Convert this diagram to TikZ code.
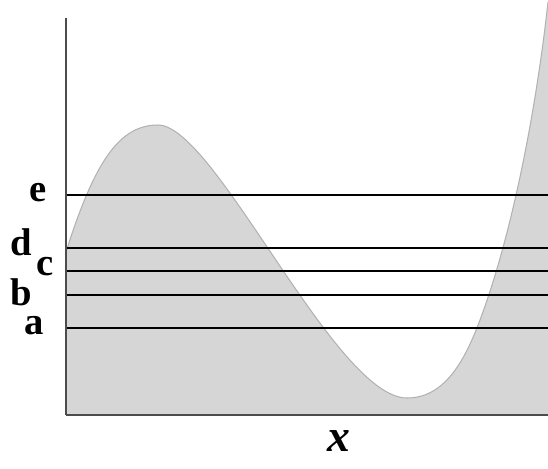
\documentclass[tikz,border=0pt]{standalone}
\usepackage{fontspec}
\setmainfont{Liberation Serif}
\usetikzlibrary{calc}
\tikzset{
  lbl/.style={font=\fontsize{22}{24}\selectfont\bfseries, inner sep=0pt},
  level/.style={line width=1.1pt, black},
  axisline/.style={line width=1.3pt, black!70}
}
\def\wellcurve{(66, 252) .. controls (95, 160) and (120, 125) .. (158, 125)
  .. controls (215, 125) and (335, 398) .. (407, 398)
  .. controls (445, 398) and (465, 360) .. (480, 320)
  .. controls (510, 240) and (535, 120) .. (548, 2)}

\begin{document}
\begin{tikzpicture}[x=0.02cm, y=-0.02cm]
				\useasboundingbox (0, 0) rectangle (548, 468);
				
				% shaded region under the curve
				\fill[black!16] (66, 415) -- \wellcurve -- (548, 415) -- cycle;
				\draw[black!30, line width=0.6pt] \wellcurve;
				
				% levels
				\draw[level] (66, 195) -- (548, 195);
				\draw[level] (66, 248) -- (548, 248);
				\draw[level] (66, 271) -- (548, 271);
				\draw[level] (66, 295) -- (548, 295);
				\draw[level] (66, 328) -- (548, 328);
				
				% axes
				\draw[axisline] (66, 18) -- (66, 415);
				\draw[axisline] (66, 415) -- (548, 415);
				
				\node[lbl] (e) at (38, 193) {e};
				\node[lbl] (d) at (21, 242) {d};
				\node[lbl] (c) at (45, 267) {c};
				\node[lbl] (b) at (21, 292) {b};
				\node[lbl] (a) at (34, 326) {a};
				\node[font=\fontsize{26}{28}\selectfont\bfseries\itshape, inner sep=0pt] (xlbl) at (339, 441) {x};
			\end{tikzpicture}
\end{document}
